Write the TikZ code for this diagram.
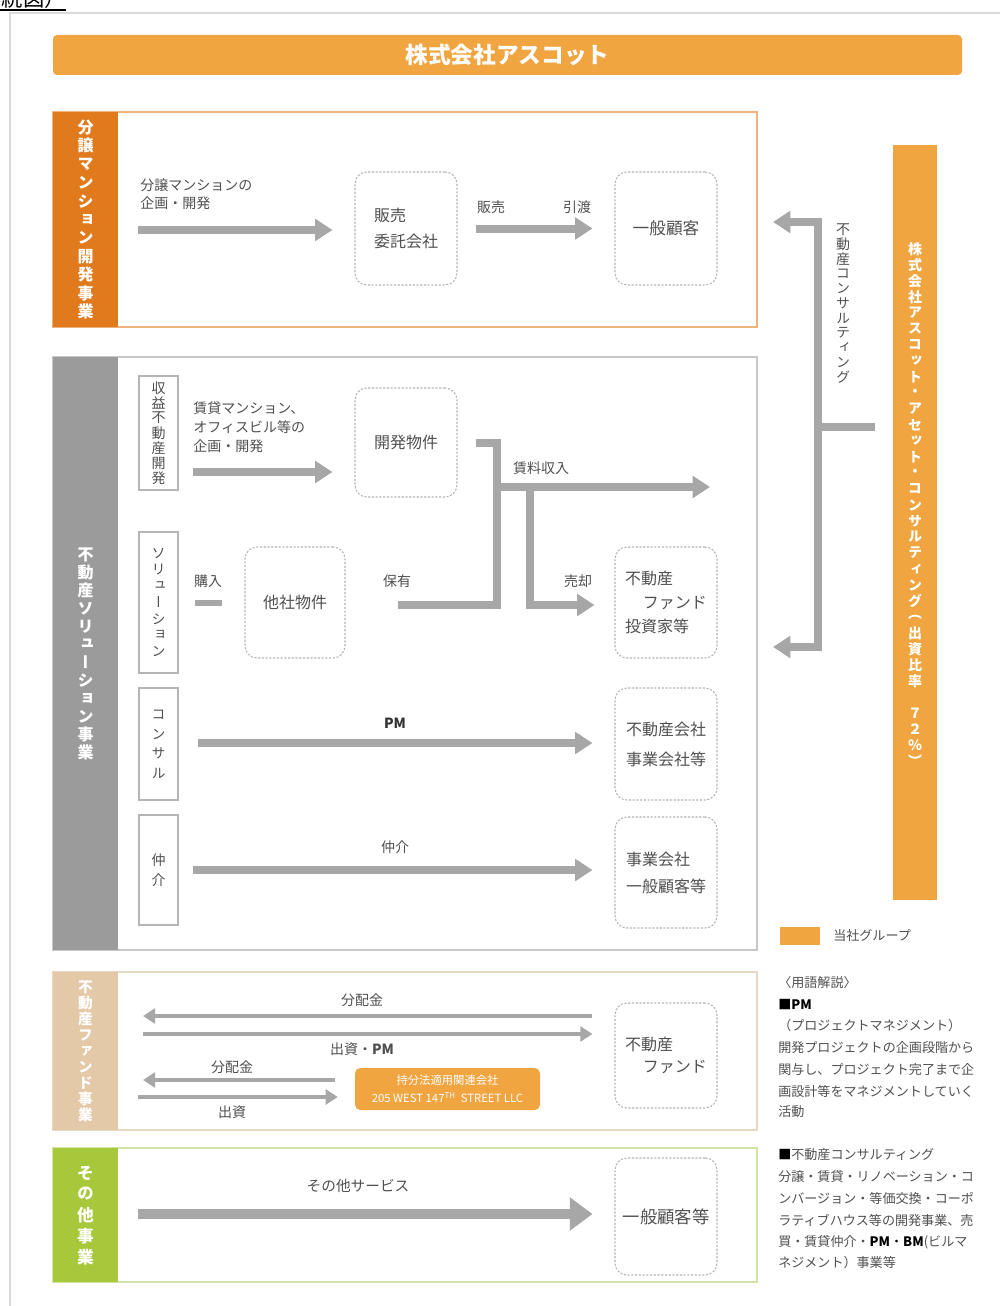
\documentclass[tikz,border=0pt]{standalone}
\usepackage{fontspec}
\setmainfont{Noto Sans CJK JP}
\newfontfamily\vjp{Noto Sans CJK JP}[RawFeature=+vert]
\usetikzlibrary{arrows.meta,calc}
\definecolor{hdr}{HTML}{F0A540}
\definecolor{sbarA}{HTML}{E07A1C}
\definecolor{sbordA}{HTML}{EEB47C}
\definecolor{sbarB}{HTML}{9B9B9B}
\definecolor{sbordB}{HTML}{C8C8C8}
\definecolor{sbarC}{HTML}{E3C9A8}
\definecolor{sbordC}{HTML}{E6D6C2}
\definecolor{sbarD}{HTML}{A6C83A}
\definecolor{sbordD}{HTML}{D2E3A6}
\definecolor{txt}{HTML}{505050}
\definecolor{arr}{HTML}{A7A7A7}
\definecolor{dsh}{HTML}{B5B5B5}
\definecolor{frm}{HTML}{DADADA}
\newdimen\vpitch
\def\vtxtEnd{\vtxtEnd}
\def\vtxtA#1{\ifx#1\vtxtEnd\else\vbox to\vpitch{\vss\hbox to 1.3em{\hss#1\hss}\vss}\expandafter\vtxtA\fi}
\newcommand\vtxt[2]{\vbox{\offinterlineskip\vpitch=#1\relax\vtxtA#2\vtxtEnd}}
\tikzset{
  lbl/.style={text=txt, inner sep=0pt, font=\fontsize{10.5}{14}\selectfont},
  dbox/.style={draw=dsh, dash pattern=on 1.6pt off 1.2pt, line width=0.8pt, rounded corners=9pt,
    minimum width=76.5pt, inner sep=0pt, text=txt, font=\fontsize{12}{20}\selectfont},
  sbox/.style={draw=dsh, line width=0.9pt, fill=white, minimum width=29.25pt, inner sep=0pt,
    text=txt, font=\vjp\fontsize{10.5}{12}\selectfont},
  secframe/.style={line width=1.2pt, minimum width=528pt, inner sep=0pt},
  secbar/.style={minimum width=48.75pt, inner sep=0pt, text=white, font=\vjp\fontsize{12}{12}\selectfont\bfseries},
  garrow/.style={draw=arr, line width=6pt, -{Triangle[length=13pt,width=16pt]}},
  gline/.style={draw=arr, line width=6pt},
  garrowthin/.style={draw=arr, line width=3.5pt, -{Triangle[length=9pt,width=11pt]}},
  garrowbig/.style={draw=arr, line width=7.5pt, -{Triangle[length=17pt,width=24pt]}},
  leg/.style={anchor=west, inner sep=0pt, text=txt, font=\fontsize{9.8}{12}\selectfont},
}
\begin{document}
\begin{tikzpicture}[x=0.75pt,y=-0.75pt]
\useasboundingbox (0,0) rectangle (1000,1306);
\fill[white] (0,0) rectangle (1000,1306);
% partial title
\node[anchor=base east, inner sep=0pt, font=\fontsize{16}{16}\selectfont] (ttl) at (66,7) {系統図）};
\draw[line width=1.2pt] (0,10) -- (66,10);
\draw[frm, line width=1pt] (10,1306) -- (10,13) -- (1000,13);
% header
\node[fill=hdr, rounded corners=3pt, minimum width=681.75pt, minimum height=30pt, inner sep=0pt,
  text=white, font=\fontsize{17}{17}\selectfont\bfseries] (hdr) at (507.5,55) {株式会社アスコット};

% ===== section 1
\node[secframe, draw=sbordA, minimum height=161.25pt] (sec1) at (405,219.5) {};
\node[secbar, fill=sbarA, minimum height=161.25pt] (bar1) at (85.5,219.5) {\vtxt{13.8pt}{分譲マンション開発事業}};
\node[lbl, anchor=west, align=left, font=\fontsize{10.5}{13.5}\selectfont] (t1) at (140,194) {分譲マンションの\\企画・開発};
\node[dbox, minimum height=84.75pt, align=left] (hanbai) at (406,228.5) {販売\\委託会社};
\node[dbox, minimum height=84.75pt, font=\fontsize{12.5}{14}\selectfont] (ippan1) at (666,228.5) {一般顧客};
\coordinate (a1s) at (138,230);
\draw[garrow, shorten >=16.5pt] (a1s) -- (a1s -| hanbai.west);
\draw[garrow, shorten <=13.5pt, shorten >=16.5pt] (hanbai.east) -- (ippan1.west);
\node[lbl] (lhan) at (491,207) {販売};
\node[lbl] (lhiki) at (577,207) {引渡};

% ===== section 2
\node[secframe, draw=sbordB, minimum height=444.75pt] (sec2) at (405,653.5) {};
\node[secbar, fill=sbarB, minimum height=444.75pt] (bar2) at (85.5,653.5) {\vtxt{13.5pt}{不動産ソリューション事業}};
\node[sbox, minimum height=85.5pt] (s1) at (158.5,433) {\vtxt{11.25pt}{収益不動産開発}};
\node[sbox, minimum height=105.75pt] (s2) at (158.5,602.5) {\vtxt{12.3pt}{ソリューション}};
\node[sbox, minimum height=84pt] (s3) at (158.5,744) {\vtxt{14.5pt}{コンサル}};
\node[sbox, minimum height=82.5pt] (s4) at (158.5,870) {\vtxt{15pt}{仲介}};

\node[lbl, anchor=west, align=left, font=\fontsize{10.5}{14.25}\selectfont] (t2) at (193,427) {賃貸マンション、\\オフィスビル等の\\企画・開発};
\node[dbox, minimum height=81.75pt] (kaihatsu) at (406,442.5) {開発物件};
\node[dbox, minimum height=83.25pt, minimum width=75pt] (tasha) at (295,602.5) {他社物件};
\node[dbox, minimum height=83.25pt, align=left, font=\fontsize{12}{18}\selectfont] (fundinv) at (666,602.5) {不動産\\\hspace{1.1em}ファンド\\投資家等};
\node[dbox, minimum height=84pt, align=left, font=\fontsize{12}{22.5}\selectfont] (fudosan) at (666,744) {不動産会社\\事業会社等};
\node[dbox, minimum height=83.25pt, align=left, font=\fontsize{12}{20.25}\selectfont] (jigyo) at (666,872.5) {事業会社\\一般顧客等};

\coordinate (a2s) at (193,472);
\draw[garrow, shorten >=16.5pt] (a2s) -- (a2s -| kaihatsu.west);
\coordinate (j1) at (497,605);
\draw[gline] ([xshift=13.5pt]kaihatsu.east) -| (j1) -- ([xshift=39pt]tasha.east |- j1);
\coordinate (j2) at (494,487);
\coordinate (rentend) at (710,487);
\draw[garrow] (j2) -- (rentend);
\coordinate (j3) at (530,487);
\draw[garrow] (j3) |- ([xshift=-15pt]fundinv.west |- j1);
\coordinate (k1) at (195,603);
\draw[draw=arr, line width=4.5pt, shorten >=17pt] (k1) -- (k1 -| tasha.west);
\node[lbl] (lrent) at (541,468) {賃料収入};
\node[lbl] (lhoyu) at (397,581) {保有};
\node[lbl] (lkonyu) at (208,581) {購入};
\node[lbl] (lbai) at (578,581) {売却};

\coordinate (a3s) at (198,743);
\draw[garrow, shorten >=16.5pt] (a3s) -- (a3s -| fudosan.west);
\node[lbl, text=black!80] (lpm) at (395,723) {\textbf{PM}};
\coordinate (a4s) at (193,870);
\draw[garrow, shorten >=16.5pt] (a4s) -- (a4s -| jigyo.west);
\node[lbl] (lchu) at (395,847) {仲介};

% ===== right side
\node[fill=hdr, minimum width=33pt, minimum height=566.25pt, inner sep=0pt] (asset) at (915,522.5) {};
\node[inner sep=0pt, text=white, font=\vjp\fontsize{10.5}{12}\selectfont\bfseries] (assettxt) at (915,505)
  {\vtxt{12pt}{株式会社アスコット・アセット・コンサルティング（出資比率　７２％）}};
\coordinate (rt) at (773,222);
\coordinate (rc1) at (818,222);
\coordinate (rc2) at (818,647);
\coordinate (rb) at (773,647);
\coordinate (rj) at (818,427);
\draw[draw=arr, line width=5.5pt, {Triangle[length=13pt,width=16pt]}-{Triangle[length=13pt,width=16pt]}] (rt) -- (rc1) -- (rc2) -- (rb);
\draw[gline, line width=5.5pt, shorten >=13.5pt] (rj) -- (rj -| asset.west);
\node[inner sep=0pt, text=txt, font=\vjp\fontsize{10.5}{12}\selectfont] (lcons) at (843,303.5) {\vtxt{11.1pt}{不動産コンサルティング}};

% ===== section 3
\node[secframe, draw=sbordC, minimum height=118.5pt] (sec3) at (405,1051) {};
\node[secbar, fill=sbarC, minimum height=118.5pt, font=\vjp\fontsize{11}{12}\selectfont\bfseries] (bar3) at (85.5,1051) {\vtxt{12pt}{不動産ファンド事業}};
\node[dbox, minimum height=78.75pt, align=left, font=\fontsize{12}{16.5}\selectfont] (fund) at (666,1055.5) {不動産\\\hspace{1.1em}ファンド};
\node[fill=hdr, rounded corners=4pt, minimum width=138.75pt, minimum height=31.5pt, inner sep=0pt,
  text=white, align=center, font=\fontsize{8.5}{13.5}\selectfont] (llc) at (447.5,1089)
  {持分法適用関連会社\\205 WEST 147\textsuperscript{TH}\ \ STREET LLC};
\coordinate (f1) at (143,1016);
\coordinate (f2) at (143,1034);
\coordinate (f3) at (143,1080);
\coordinate (f4) at (138,1097);
\draw[garrowthin, shorten <=16.5pt] (f1 -| fund.west) -- (f1);
\draw[garrowthin, shorten >=16.5pt] (f2) -- (f2 -| fund.west);
\draw[garrowthin, shorten <=15pt] (f3 -| llc.west) -- (f3);
\draw[garrowthin, shorten >=12.75pt] (f4) -- (f4 -| llc.west);
\node[lbl] (lbh1) at (362,1000) {分配金};
\node[lbl] (lsp) at (362,1049) {出資・\textbf{PM}};
\node[lbl] (lbh2) at (232,1067) {分配金};
\node[lbl] (lsh) at (232,1112) {出資};

% ===== section 4
\node[secframe, draw=sbordD, minimum height=100.5pt] (sec4) at (405,1215) {};
\node[secbar, fill=sbarD, minimum height=100.5pt, font=\vjp\fontsize{12.5}{12}\selectfont\bfseries] (bar4) at (85.5,1215) {\vtxt{15.75pt}{その他事業}};
\node[dbox, minimum height=87.75pt, font=\fontsize{13}{14}\selectfont] (ippan2) at (666,1216.5) {一般顧客等};
\coordinate (o1) at (138,1214);
\draw[garrowbig, shorten >=16.5pt] (o1) -- (o1 -| ippan2.west);
\node[lbl, font=\fontsize{11}{14}\selectfont] (lother) at (358,1186) {その他サービス};

% ===== legend
\node[fill=hdr, minimum width=30pt, minimum height=13.5pt, inner sep=0pt] (sw) at (800,936) {};
\node[leg] (swt) at (833,936) {当社グループ};
\node[leg] (g1) at (778,983) {〈用語解説〉};
\node[leg, text=black] (g2) at (778,1005) {■\textbf{PM}};
\node[leg] (g3) at (778,1026) {（プロジェクトマネジメント）};
\node[leg] (g4) at (778,1048) {開発プロジェクトの企画段階から};
\node[leg] (g5) at (778,1070) {関与し、プロジェクト完了まで企};
\node[leg] (g6) at (778,1091) {画設計等をマネジメントしていく};
\node[leg] (g7) at (778,1112) {活動};
\node[leg] (g8) at (778,1155) {{\color{black}■}不動産コンサルティング};
\node[leg] (g9) at (778,1177) {分譲・賃貸・リノベーション・コ};
\node[leg] (g10) at (778,1198) {ンバージョン・等価交換・コーポ};
\node[leg] (g11) at (778,1220) {ラティブハウス等の開発事業、売};
\node[leg] (g12) at (778,1242) {買・賃貸仲介・{\color{black}\textbf{PM}・\textbf{BM}}(ビルマ};
\node[leg] (g13) at (778,1263) {ネジメント）事業等};
\end{tikzpicture}
\end{document}
